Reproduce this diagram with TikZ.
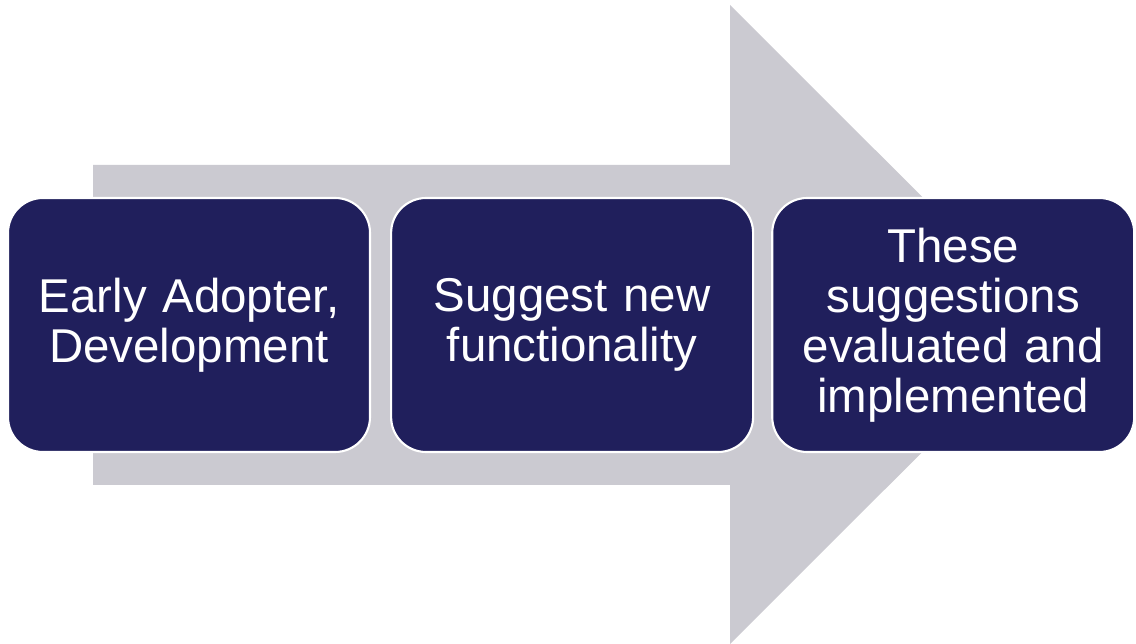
\documentclass[tikz,border=0pt]{standalone}
\usepackage{fontspec}
\setmainfont{Liberation Sans}
\usepackage{xcolor}
\usetikzlibrary{positioning}
\definecolor{navy}{HTML}{201F5C}
\definecolor{arrowgray}{HTML}{CBCAD1}

\begin{document}
\begin{tikzpicture}[
		stage/.style={draw=white, line width=1.2pt, fill=navy, rectangle, rounded corners=0.7cm, minimum width=7.24cm, minimum height=5.08cm, text width=6.9cm, align=center, text=white, font=\fontsize{27}{28.5}\selectfont}
	]
		\useasboundingbox (0,0) rectangle (22.72,12.88);
		\fill[arrowgray] (1.86,3.18) -- (1.86,9.58) -- (14.6,9.58) -- (14.6,12.78) -- (21.0,6.39) -- (14.6,0) -- (14.6,3.18) -- cycle;
		
		\node[stage] (adopter) at (3.78,6.38) {Early Adopter,\\Development};
		\node[stage, right=0.38cm of adopter] (suggest) {Suggest new\\functionality};
		\node[stage, right=0.34cm of suggest] (evaluate) {These\\suggestions\\evaluated and\\implemented};
	\end{tikzpicture}
\end{document}
